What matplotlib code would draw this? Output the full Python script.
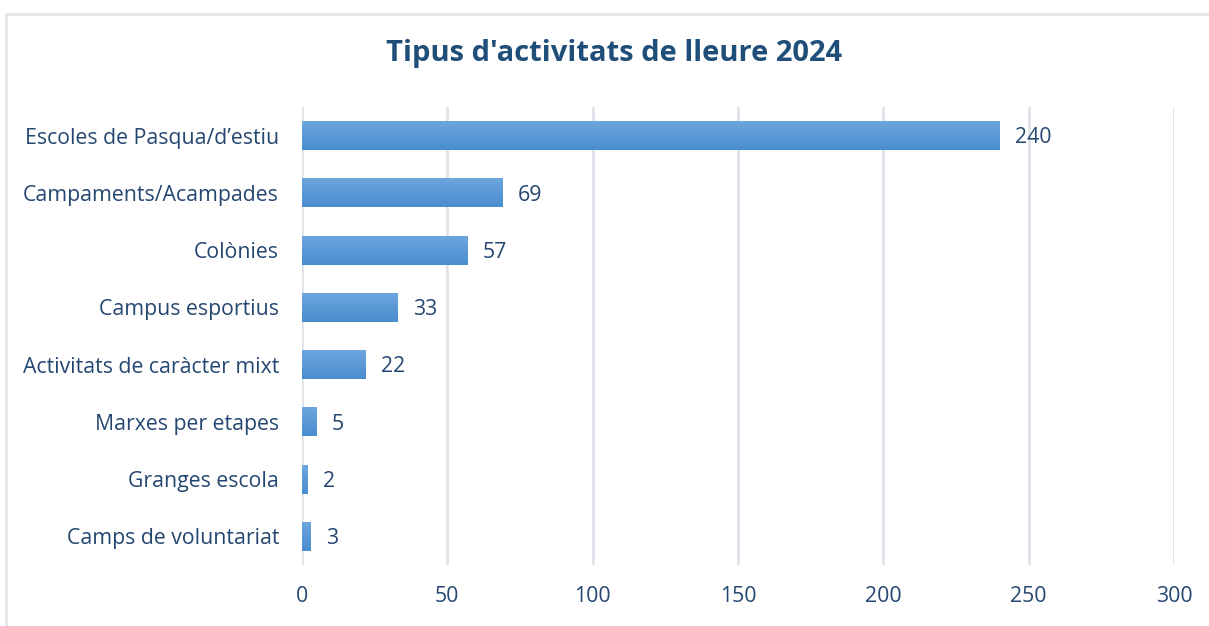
import matplotlib.pyplot as plt
import numpy as np
from matplotlib.patches import Rectangle
from matplotlib.colors import LinearSegmentedColormap

plt.rcParams['font.family'] = ['Open Sans', 'DejaVu Sans']

categories = ["Escoles de Pasqua/d\u2019estiu", "Campaments/Acampades", "Col\u00f2nies",
              "Campus esportius", "Activitats de car\u00e0cter mixt", "Marxes per etapes",
              "Granges escola", "Camps de voluntariat"]
values = [240, 69, 57, 33, 22, 5, 2, 3]
xticks = [0, 50, 100, 150, 200, 250, 300]

text_color = '#244670'
grid_color = '#dfe3ea'
bar_cmap = LinearSegmentedColormap.from_list('bar', ['#6ea7de', '#4a8dcf'])

fig = plt.figure(figsize=(12.09, 6.26), dpi=100)
fig.patch.set_facecolor('white')
# outer frame of the chart box
fig.patches.append(Rectangle((6 / 1209, -0.05), 1.1, (626 - 14) / 626 + 0.05,
                             transform=fig.transFigure, fill=False,
                             edgecolor='#e2e5ea', linewidth=2))

ax = fig.add_axes([302 / 1209, (626 - 565) / 626, (1174 - 302) / 1209, (565 - 107) / 626])
y = np.arange(len(categories))
bar_h = 0.51
bars = ax.barh(y, values, height=bar_h, color='#5b9bd9', zorder=2)

grad = np.linspace(0, 1, 100).reshape(-1, 1)
for b in bars:
    x0, y0 = b.get_x(), b.get_y()
    w, h = b.get_width(), b.get_height()
    im = ax.imshow(grad, cmap=bar_cmap, aspect='auto', origin='upper',
                   extent=[x0, x0 + w, y0 + h, y0], zorder=3)
    im.set_clip_path(b)

for yi, v in zip(y, values):
    ax.text(v + 5.3, yi + 0.04, str(v), va='center', ha='left', fontsize=15.3,
            color=text_color, zorder=4)

ax.set_xlim(0, 300)
ax.set_ylim(len(categories) - 0.5, -0.5)
ax.set_xticks(xticks)
ax.set_xticklabels([str(t) for t in xticks])
ax.set_yticks(y)
ax.set_yticklabels(categories)
ax.tick_params(axis='both', length=0, labelsize=15.3, colors=text_color)
ax.tick_params(axis='x', pad=15)
ax.tick_params(axis='y', pad=16.5)
ax.grid(axis='x', color=grid_color, linewidth=2, zorder=0)
ax.set_axisbelow(True)
for spine in ax.spines.values():
    spine.set_visible(False)

fig.text(614 / 1209, 1 - 54 / 626, "Tipus d'activitats de lleure 2024", ha='center', va='center',
         fontsize=21, fontweight='bold', color='#1f4e79')

fig.savefig('out.png', dpi=100)
